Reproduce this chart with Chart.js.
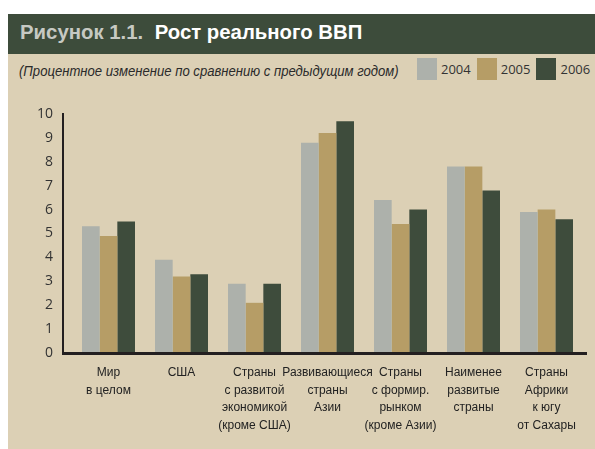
<!DOCTYPE html>
<html>
<head>
<meta charset="utf-8">
<script src="https://cdn.jsdelivr.net/npm/chart.js@4.4.1/dist/chart.umd.min.js"></script>
<style>
    body { margin: 0; background: #fff; width: 595px; height: 449px; position: relative; overflow: hidden; }
    #panel { position: absolute; left: 8px; top: 14px; width: 587px; height: 435px; background: #dcd0b5; }
    #titlebar { position: absolute; left: 0; top: 0; width: 587px; height: 40px; background: #3d4c3b; }
    #title { position: absolute; left: 12px; top: 6px; font: bold 21px 'Liberation Sans', Arial, sans-serif; color: #fff; white-space: nowrap; transform-origin: left center; }
    #title .num { color: #c6c9c3; margin-right: 6px; }
    #subtitle { position: absolute; left: 11px; top: 49px; font: italic 14px 'Liberation Sans', Arial, sans-serif; color: #2a2a2a; white-space: nowrap; transform-origin: left center; }
    #legend { position: absolute; left: 409px; top: 44px; display: flex; align-items: center; }
    #legend .item { display: flex; align-items: center; margin-right: 6px; }
    #legend .box { width: 20px; height: 22px; margin-right: 4px; }
    #legend span { font: 13px 'Open Sans', sans-serif; color: #333; }
    #wrap { position: absolute; left: 0; top: 40px; width: 587px; height: 395px; }
</style>
</head>
<body>
<div id="panel">
    <div id="titlebar"><div id="title"><span class="num">Рисунок 1.1.</span> Рост реального ВВП</div></div>
    <div id="subtitle">(Процентное изменение по сравнению с предыдущим годом)</div>
    <div id="legend"></div>
    <div id="wrap"><canvas id="chart" width="587" height="395"></canvas></div>
</div>
<script>
// categories (multi-line labels)
const categories = [
    ['Мир', 'в целом'],
    ['США'],
    ['Страны', 'с развитой', 'экономикой', '(кроме США)'],
    ['Развивающиеся', 'страны', 'Азии'],
    ['Страны', 'с формир.', 'рынком', '(кроме Азии)'],
    ['Наименее', 'развитые', 'страны'],
    ['Страны', 'Африки', 'к югу', 'от Сахары']
];
const years = ['2004', '2005', '2006'];
const values2004 = [5.3, 3.9, 2.9, 8.8, 6.4, 7.8, 5.9];
const values2005 = [4.9, 3.2, 2.1, 9.2, 5.4, 7.8, 6.0];
const values2006 = [5.5, 3.3, 2.9, 9.7, 6.0, 6.8, 5.6];
const yTicks = [0, 1, 2, 3, 4, 5, 6, 7, 8, 9, 10];
const colors = ['#adb1ab', '#b69d66', '#3e4c3c'];

const series = [values2004, values2005, values2006];

// squeeze header texts to the condensed widths of the original
function fitWidth(id, target) {
    const el = document.getElementById(id);
    const w = el.scrollWidth;
    if (w > 0) el.style.transform = `scaleX(${target / w})`;
}
fitWidth('title', 342);
fitWidth('subtitle', 380);

// legend in html
const legendEl = document.getElementById('legend');
years.forEach((y, i) => {
    const item = document.createElement('div');
    item.className = 'item';
    item.innerHTML = `<div class="box" style="background:${colors[i]}"></div><span>${y}</span>`;
    legendEl.appendChild(item);
});

// axis lines drawn slightly left of first category, like the original
const axisLines = {
    id: 'axisLines',
    afterDatasetsDraw(chart) {
        const { ctx, chartArea, scales } = chart;
        const y0 = scales.y.getPixelForValue(0);
        const yTop = scales.y.getPixelForValue(10);
        const xLeft = chartArea.left - 9;
        ctx.save();
        ctx.strokeStyle = '#231f20';
        ctx.lineWidth = 2;
        ctx.beginPath();
        ctx.moveTo(xLeft, yTop - 1);
        ctx.lineTo(xLeft, y0);
        ctx.stroke();
        ctx.lineWidth = 3;
        ctx.beginPath();
        ctx.moveTo(xLeft - 1, y0 + 0.5);
        ctx.lineTo(chartArea.right + 4, y0 + 0.5);
        ctx.stroke();
        ctx.restore();
    }
};

const ctx = document.getElementById('chart').getContext('2d');
new Chart(ctx, {
    type: 'bar',
    data: {
        labels: categories,
        datasets: years.map((y, i) => ({
            label: y,
            data: series[i],
            backgroundColor: colors[i],
            borderWidth: 0,
            categoryPercentage: 0.726,
            barPercentage: 1.0
        }))
    },
    options: {
        responsive: false,
        animation: false,
        layout: { padding: { top: 60, right: 12, bottom: 0, left: 0 } },
        plugins: {
            legend: { display: false },
            tooltip: { enabled: false }
        },
        scales: {
            x: {
                grid: { display: false, drawTicks: false },
                border: { display: false },
                ticks: {
                    padding: 11,
                    autoSkip: false,
                    maxRotation: 0,
                    color: '#222',
                    font: { family: "'Liberation Sans', Arial, sans-serif", size: 12, lineHeight: 1.47 }
                },
                afterFit: (scale) => { scale.height = 96; }
            },
            y: {
                min: 0,
                max: 10,
                grid: { display: false, drawTicks: false },
                border: { display: false },
                afterBuildTicks: (scale) => { scale.ticks = yTicks.map(v => ({ value: v })); },
                ticks: {
                    padding: 19,
                    color: '#333',
                    font: { family: "'Open Sans', sans-serif", size: 14 }
                },
                afterFit: (scale) => { scale.width = 64; }
            }
        }
    },
    plugins: [axisLines]
});
</script>
</body>
</html>
